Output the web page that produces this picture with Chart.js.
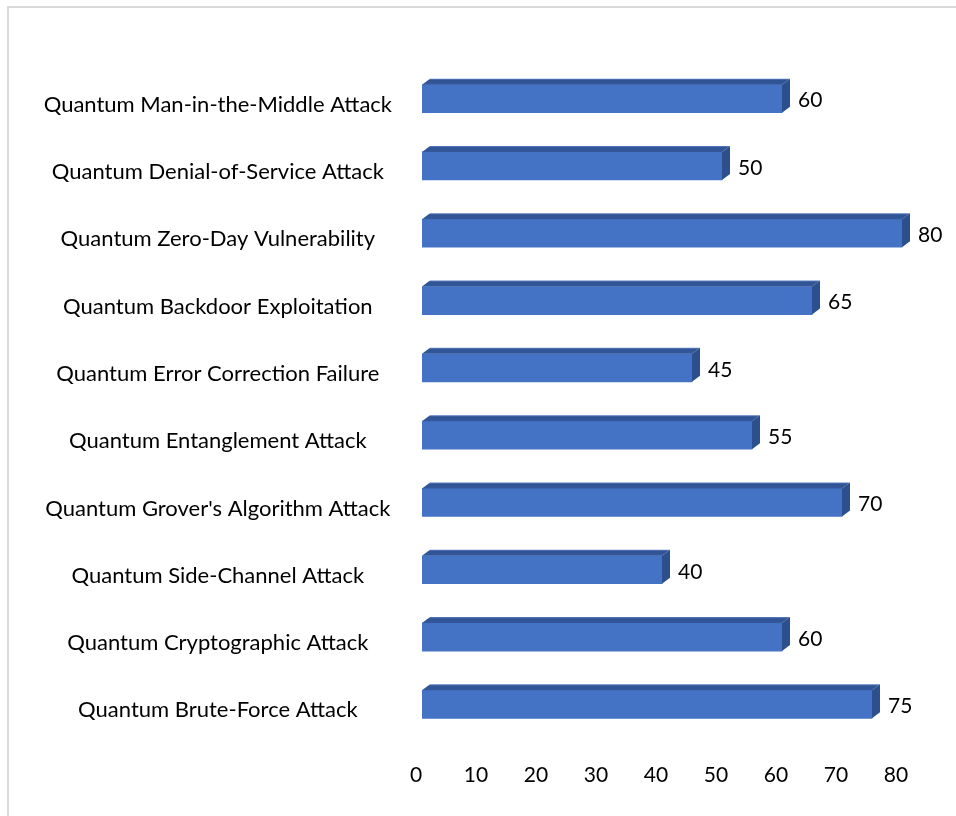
<!DOCTYPE html>
<html>
<head>
<meta charset="utf-8">
<script src="https://cdn.jsdelivr.net/npm/chart.js@4/dist/chart.umd.min.js"></script>
<style>
  html, body { margin: 0; padding: 0; background: #ffffff; overflow: hidden; }
  canvas { display: block; }
</style>
</head>
<body>
<canvas id="c" width="956" height="816"></canvas>
<script>
// Attack categories, listed top to bottom
const attackTypes = [
  "Quantum Man-in-the-Middle Attack",
  "Quantum Denial-of-Service Attack",
  "Quantum Zero-Day Vulnerability",
  "Quantum Backdoor Exploitation",
  "Quantum Error Correction Failure",
  "Quantum Entanglement Attack",
  "Quantum Grover's Algorithm Attack",
  "Quantum Side-Channel Attack",
  "Quantum Cryptographic Attack",
  "Quantum Brute-Force Attack"
];
// Score per attack category
const attackScores = [60, 50, 80, 65, 45, 55, 70, 40, 60, 75];
// Value axis ticks
const scoreTicks = [0, 10, 20, 30, 40, 50, 60, 70, 80];

const FONT = "Lato, 'Open Sans', sans-serif";
const DEPTH_X = 8, DEPTH_Y = 6;

// Light frame around the chart
const framePlugin = {
  id: 'frame',
  beforeDraw(chart) {
    const ctx = chart.ctx;
    ctx.save();
    ctx.fillStyle = '#ffffff';
    ctx.fillRect(0, 0, chart.width, chart.height);
    ctx.strokeStyle = '#d9d9d9';
    ctx.lineWidth = 2;
    ctx.beginPath();
    ctx.moveTo(8, chart.height);
    ctx.lineTo(8, 7);
    ctx.lineTo(chart.width, 7);
    ctx.stroke();
    ctx.restore();
  }
};

// Extruded top and side faces for each bar, plus its value label
const boxPlugin = {
  id: 'box3d',
  afterDatasetsDraw(chart) {
    const ctx = chart.ctx;
    const meta = chart.getDatasetMeta(0);
    ctx.save();
    meta.data.forEach((bar, i) => {
      const p = bar.getProps(['x', 'y', 'base', 'height'], true);
      const top = p.y - p.height / 2, bottom = p.y + p.height / 2;
      // top face
      const g = ctx.createLinearGradient(0, top - DEPTH_Y, 0, top);
      g.addColorStop(0, '#5b7fc4');
      g.addColorStop(0.3, '#2f5293');
      g.addColorStop(1, '#34589c');
      ctx.fillStyle = g;
      ctx.beginPath();
      ctx.moveTo(p.base, top);
      ctx.lineTo(p.base + DEPTH_X, top - DEPTH_Y);
      ctx.lineTo(p.x + DEPTH_X, top - DEPTH_Y);
      ctx.lineTo(p.x, top);
      ctx.closePath();
      ctx.fill();
      // side face
      ctx.fillStyle = '#2c4f8e';
      ctx.beginPath();
      ctx.moveTo(p.x, top);
      ctx.lineTo(p.x + DEPTH_X, top - DEPTH_Y);
      ctx.lineTo(p.x + DEPTH_X, bottom - DEPTH_Y);
      ctx.lineTo(p.x, bottom);
      ctx.closePath();
      ctx.fill();
      // value label
      ctx.fillStyle = '#000000';
      ctx.font = '21px ' + FONT;
      ctx.textAlign = 'left';
      ctx.textBaseline = 'middle';
      ctx.fillText(String(attackScores[i]), p.x + 16, p.y + 2);
    });
    ctx.restore();
  }
};

new Chart(document.getElementById('c'), {
  type: 'bar',
  data: {
    labels: attackTypes,
    datasets: [{
      data: attackScores,
      backgroundColor: '#4472c4',
      borderWidth: 0,
      barThickness: 28
    }]
  },
  options: {
    indexAxis: 'y',
    responsive: false,
    animation: false,
    events: [],
    layout: { padding: { top: 65, right: 54, bottom: 0, left: 0 } },
    plugins: {
      legend: { display: false },
      tooltip: { enabled: false },
      title: { display: false }
    },
    scales: {
      x: {
        min: 0,
        max: 80,
        afterBuildTicks(scale) {
          scale.ticks = scoreTicks.map(v => ({ value: v }));
        },
        afterFit(scale) { scale.height = 78; },
        grid: { display: false, drawTicks: false },
        border: { display: false },
        ticks: {
          color: '#000000',
          font: { family: FONT, size: 21 },
          padding: 25,
          labelOffset: -6,
          maxRotation: 0
        }
      },
      y: {
        afterFit(scale) { scale.width = 422; },
        grid: { display: false, drawTicks: false },
        border: { display: false },
        ticks: {
          color: '#000000',
          font: { family: FONT, size: 22 },
          crossAlign: 'center',
          padding: 30,
          labelOffset: 6,
          autoSkip: false
        }
      }
    }
  },
  plugins: [framePlugin, boxPlugin]
});
</script>
</body>
</html>
